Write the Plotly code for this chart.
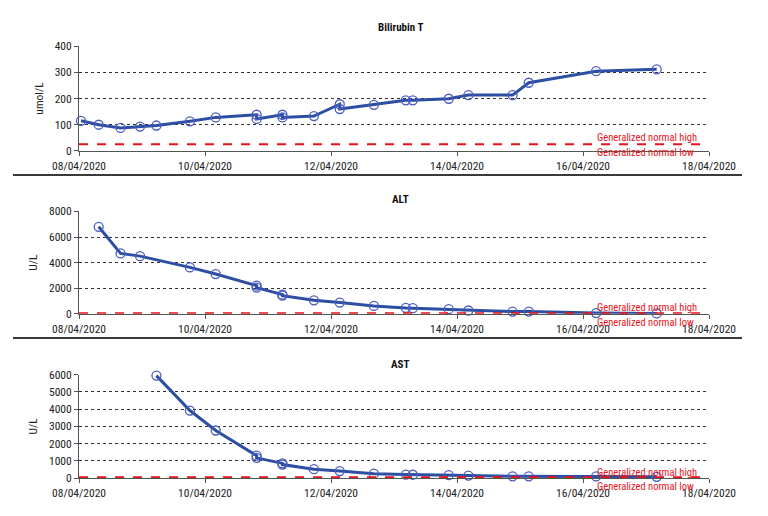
import plotly.graph_objects as go
from plotly.subplots import make_subplots

# ---------------- data ----------------
bili_times = ["2020-04-08 00:45", "2020-04-08 07:30", "2020-04-08 15:50", "2020-04-08 23:15",
              "2020-04-09 05:30", "2020-04-09 18:15", "2020-04-10 04:05", "2020-04-10 19:40",
              "2020-04-10 19:40", "2020-04-11 05:30", "2020-04-11 05:30", "2020-04-11 17:30",
              "2020-04-12 03:20", "2020-04-12 03:20", "2020-04-12 16:20", "2020-04-13 04:30",
              "2020-04-13 07:10", "2020-04-13 20:50", "2020-04-14 04:20", "2020-04-14 21:10",
              "2020-04-15 03:20", "2020-04-16 05:00", "2020-04-17 04:05"]
bili_vals = [115, 100, 88, 93, 97, 113, 128, 138, 122, 138, 128, 133,
             178, 160, 176, 193, 193, 199, 213, 213, 260, 304, 311]

alt_times = ["2020-04-08 07:30", "2020-04-08 15:50", "2020-04-08 23:15", "2020-04-09 18:15",
             "2020-04-10 04:05", "2020-04-10 19:40", "2020-04-10 19:40", "2020-04-11 05:30",
             "2020-04-11 05:30", "2020-04-11 17:30", "2020-04-12 03:20", "2020-04-12 16:20",
             "2020-04-13 04:30", "2020-04-13 07:10", "2020-04-13 20:50", "2020-04-14 04:20",
             "2020-04-14 21:10", "2020-04-15 03:20", "2020-04-16 05:00", "2020-04-17 04:05"]
alt_vals = [6800, 4720, 4510, 3630, 3110, 2200, 2050, 1500, 1420, 1060, 880, 620,
            460, 440, 365, 260, 180, 180, 60, 30]

ast_times = ["2020-04-09 05:30", "2020-04-09 18:15", "2020-04-10 04:05", "2020-04-10 19:40",
             "2020-04-10 19:40", "2020-04-11 05:30", "2020-04-11 05:30", "2020-04-11 17:30",
             "2020-04-12 03:20", "2020-04-12 16:20", "2020-04-13 04:30", "2020-04-13 07:10",
             "2020-04-13 20:50", "2020-04-14 04:20", "2020-04-14 21:10", "2020-04-15 03:20",
             "2020-04-16 05:00", "2020-04-17 04:05"]
ast_vals = [5950, 3920, 2760, 1300, 1170, 850, 780, 510, 400, 250, 200, 190,
            170, 140, 100, 95, 90, 70]

panel_titles = ["Bilirubin T", "ALT", "AST"]
units = ["umol/L", "U/L", "U/L"]
y_max = [400, 8000, 6000]
y_dtick = [100, 2000, 1000]
normal_high = [26, 40, 40]
x_start, x_end = "2020-04-08", "2020-04-18"

# ---------------- figure ----------------
FONT = "Liberation Sans Narrow, Arial Narrow, Roboto Condensed, sans-serif"
LINE_C = "#2c4ea3"
MARK_C = "#4a5cc0"
RED = "#e8141b"

fig = make_subplots(rows=3, cols=1)
series = [(bili_times, bili_vals), (alt_times, alt_vals), (ast_times, ast_vals)]
domains = [[0.757, 1.0], [0.380, 0.617], [0.0, 0.239]]
title_shift = [19, 12, 10]

for i, (t, v) in enumerate(series):
    r = i + 1
    fig.add_trace(go.Scatter(x=t, y=v, mode="lines+markers",
                             line=dict(color=LINE_C, width=3),
                             marker=dict(symbol="circle-open", size=9, color=MARK_C,
                                         line=dict(width=1.3, color=MARK_C)),
                             showlegend=False, cliponaxis=False), row=r, col=1)
    fig.update_xaxes(row=r, col=1, type="date", range=[x_start, x_end],
                     tick0=x_start, dtick=172800000, tickformat="%d/%m/%Y",
                     showgrid=False, zeroline=False, showline=True, linecolor="#555",
                     linewidth=1, ticks="outside", ticklen=4, tickcolor="#555",
                     tickfont=dict(family=FONT, size=11.5, color="#222"),
                     domain=[0, 1])
    fig.update_yaxes(row=r, col=1, range=[0, y_max[i]], dtick=y_dtick[i],
                     showgrid=True, gridcolor="#333", griddash="dot", gridwidth=1,
                     zeroline=False, showline=True, linecolor="#555", linewidth=1,
                     ticks="outside", ticklen=4, tickcolor="#555",
                     tickfont=dict(family=FONT, size=11.5, color="#222"),
                     title=dict(text=units[i], font=dict(family=FONT, size=11.5, color="#222"),
                                standoff=8),
                     domain=domains[i])
    xa = "x" if r == 1 else f"x{r}"
    ya = "y" if r == 1 else f"y{r}"
    fig.add_shape(type="line", xref=f"{xa} domain", yref=ya, x0=0, x1=1,
                  y0=normal_high[i], y1=normal_high[i],
                  line=dict(color=RED, width=2, dash="dash"))
    fig.add_annotation(xref="paper", yref=f"{ya} domain", x=0.511, y=1.0,
                       yshift=title_shift[i],
                       text=f"<b>{panel_titles[i]}</b>", showarrow=False,
                       font=dict(family=FONT, size=11, color="#111"),
                       xanchor="center", yanchor="middle")

label_y = [(0.7887, 0.754), (0.395, 0.3604), (0.0132, -0.0208)]
for hy, ly in label_y:
    fig.add_annotation(xref="paper", yref="paper", x=0.819, y=hy, text="Generalized normal high",
                       showarrow=False, xanchor="left", yanchor="middle",
                       font=dict(family=FONT, size=10.5, color=RED))
    fig.add_annotation(xref="paper", yref="paper", x=0.819, y=ly, text="Generalized normal low",
                       showarrow=False, xanchor="left", yanchor="middle",
                       font=dict(family=FONT, size=10.5, color=RED))

for sy in [0.7014, 0.324]:
    fig.add_shape(type="line", xref="paper", yref="paper", x0=-0.1048, x1=1.0524,
                  y0=sy, y1=sy, line=dict(color="#3a3a3a", width=2))

fig.update_layout(width=768, height=516, margin=dict(l=71, r=67, t=38, b=46),
                  plot_bgcolor="white", paper_bgcolor="white",
                  font=dict(family=FONT, size=11, color="#222"))

fig.write_html("out.html")
